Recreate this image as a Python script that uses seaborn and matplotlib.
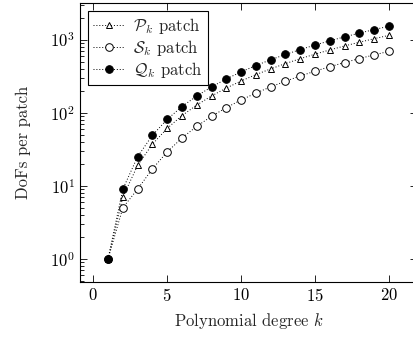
import numpy as np
import pandas as pd
import matplotlib
matplotlib.use("Agg")
import matplotlib.pyplot as plt
import seaborn as sns

# grado polinomial y DoFs por patch
k = list(range(1, 21))
dofs_P = [1, 7, 19, 37, 61, 91, 127, 169, 217, 271, 331, 397, 469, 547, 631, 721, 817, 919, 1027, 1141]
dofs_S = [1, 5, 9, 17, 29, 45, 65, 89, 117, 149, 185, 225, 269, 317, 369, 425, 485, 549, 617, 689]
dofs_Q = [1, 9, 25, 49, 81, 121, 169, 225, 289, 361, 441, 529, 625, 729, 841, 961, 1089, 1225, 1369, 1521]

datos = pd.DataFrame({"k": k, "P": dofs_P, "S": dofs_S, "Q": dofs_Q})

sns.set_theme(style="ticks")
plt.rcParams["font.family"] = ["cmr10"]
plt.rcParams["mathtext.fontset"] = "cm"
plt.rcParams["axes.formatter.use_mathtext"] = True
plt.rcParams["font.size"] = 12

fig = plt.figure(figsize=(4.14, 3.37), dpi=100)
ax = fig.add_axes([80 / 414, (337 - 282) / 337, 337 / 414, 279 / 337])

linea = dict(color="black", linestyle=(0, (1, 2)), linewidth=0.7, markeredgecolor="black",
             markeredgewidth=0.7)
sns.lineplot(data=datos, x="k", y="P", ax=ax, marker="^", markersize=4.8,
             markerfacecolor="white", label=r"$\mathcal{P}_k$ patch", **linea)
sns.lineplot(data=datos, x="k", y="S", ax=ax, marker="o", markersize=5.5,
             markerfacecolor="white", label=r"$\mathcal{S}_k$ patch", **linea)
sns.lineplot(data=datos, x="k", y="Q", ax=ax, marker="o", markersize=5.5,
             markerfacecolor="black", label=r"$\mathcal{Q}_k$ patch", **linea)

ax.set_yscale("log")
ax.set_xlim(-0.9, 21.9)
ax.set_ylim(10 ** -0.318, 10 ** 3.50)
ax.set_xticks([0, 5, 10, 15, 20])
ax.set_xlabel(r"Polynomial degree $k$", fontsize=12, labelpad=5)
ax.set_ylabel("DoFs per patch", fontsize=12, labelpad=14)

for s in ax.spines.values():
    s.set_color("black")
    s.set_linewidth(0.8)
ax.tick_params(which="both", direction="in", top=True, right=True, colors="black",
               labelsize=12, width=0.6)
ax.tick_params(which="major", length=5)
ax.tick_params(which="minor", length=3)
ax.tick_params(axis="x", which="minor", bottom=False, top=False)

leg = ax.legend(loc="upper left", fancybox=False, edgecolor="black", framealpha=1,
                fontsize=12, handlelength=1.9, borderaxespad=0.5, labelspacing=0.12,
                handletextpad=0.5, borderpad=0.3)
leg.get_frame().set_linewidth(0.8)

fig.savefig("out.png", dpi=100)
